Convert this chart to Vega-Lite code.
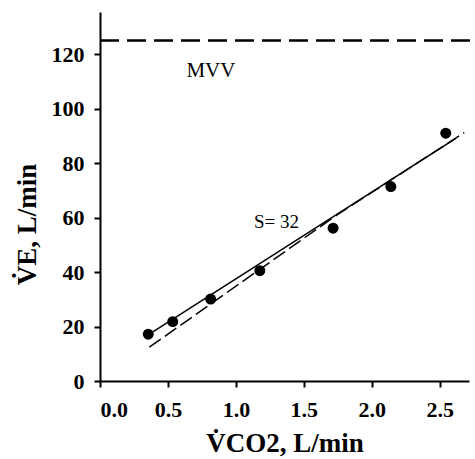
{
  "$schema": "https://vega.github.io/schema/vega-lite/v6.json",
  "width": 369,
  "height": 369,
  "autosize": {"type": "none"},
  "padding": {"left": 100, "top": 12, "right": 6, "bottom": 78},
  "background": "white",
  "config": {
    "view": {"stroke": null},
    "axis": {
      "grid": false,
      "domainColor": "black",
      "domainWidth": 2,
      "tickColor": "black",
      "tickWidth": 2,
      "tickSize": 6,
      "labelFont": "Liberation Serif",
      "labelFontWeight": "bold",
      "labelFontSize": 22,
      "labelColor": "black",
      "titleFont": "Liberation Serif",
      "titleFontWeight": "bold",
      "titleFontSize": 27,
      "titleColor": "black"
    }
  },
  "datasets": {
    "points": [
      {"vco2": 0.355, "ve": 17.2},
      {"vco2": 0.535, "ve": 21.8},
      {"vco2": 0.814, "ve": 30.1},
      {"vco2": 1.176, "ve": 40.5},
      {"vco2": 1.715, "ve": 56.1},
      {"vco2": 2.14, "ve": 71.4},
      {"vco2": 2.544, "ve": 91.0}
    ],
    "fit": [
      {"vco2": 0.392, "ve": 18.1},
      {"vco2": 2.618, "ve": 89.1}
    ],
    "pred": [
      {"vco2": 0.363, "ve": 12.4},
      {"vco2": 1.75, "ve": 61.2},
      {"vco2": 2.68, "ve": 91.2}
    ],
    "mvv": [
      {"vco2": 0.0, "ve": 125},
      {"vco2": 2.76, "ve": 125}
    ],
    "labels": [
      {"vco2": 0.816, "ve": 113.9, "text": "MVV", "size": 21},
      {"vco2": 1.299, "ve": 58.5, "text": "S= 32", "size": 19}
    ]
  },
  "layer": [
    {
      "data": {"name": "mvv"},
      "mark": {"type": "line", "color": "black", "strokeWidth": 2.5, "strokeDash": [19, 8]},
      "encoding": {
        "x": {
          "field": "vco2", "type": "quantitative",
          "scale": {"domain": [0, 2.715], "nice": false, "zero": true},
          "axis": {
            "values": [0, 0.5, 1, 1.5, 2, 2.5],
            "format": ".1f",
            "labelPadding": 12,
            "title": "V\u0307CO2, L/min",
            "titleY": 70.5,
            "titleBaseline": "alphabetic"
          }
        },
        "y": {
          "field": "ve", "type": "quantitative",
          "scale": {"domain": [0, 135.5], "nice": false},
          "axis": {
            "values": [0, 20, 40, 60, 80, 100, 120],
            "labelPadding": 10,
            "title": "V\u0307E, L/min",
            "titleX": -65,
            "titleY": 212,
            "titleAngle": -90,
            "titleAlign": "center",
            "titleBaseline": "alphabetic"
          }
        }
      }
    },
    {
      "data": {"name": "pred"},
      "mark": {"type": "line", "color": "black", "strokeWidth": 1.5, "strokeDash": [14, 5]},
      "encoding": {
        "x": {"field": "vco2", "type": "quantitative"},
        "y": {"field": "ve", "type": "quantitative"}
      }
    },
    {
      "data": {"name": "fit"},
      "mark": {"type": "line", "color": "black", "strokeWidth": 1.5},
      "encoding": {
        "x": {"field": "vco2", "type": "quantitative"},
        "y": {"field": "ve", "type": "quantitative"}
      }
    },
    {
      "data": {"name": "points"},
      "mark": {"type": "point", "filled": true, "color": "black", "opacity": 1, "size": 120},
      "encoding": {
        "x": {"field": "vco2", "type": "quantitative"},
        "y": {"field": "ve", "type": "quantitative"}
      }
    },
    {
      "data": {"name": "labels"},
      "mark": {"type": "text", "font": "Liberation Serif", "color": "black", "align": "center", "baseline": "middle"},
      "encoding": {
        "x": {"field": "vco2", "type": "quantitative"},
        "y": {"field": "ve", "type": "quantitative"},
        "text": {"field": "text"},
        "size": {"field": "size", "type": "quantitative", "scale": null}
      }
    }
  ]
}
